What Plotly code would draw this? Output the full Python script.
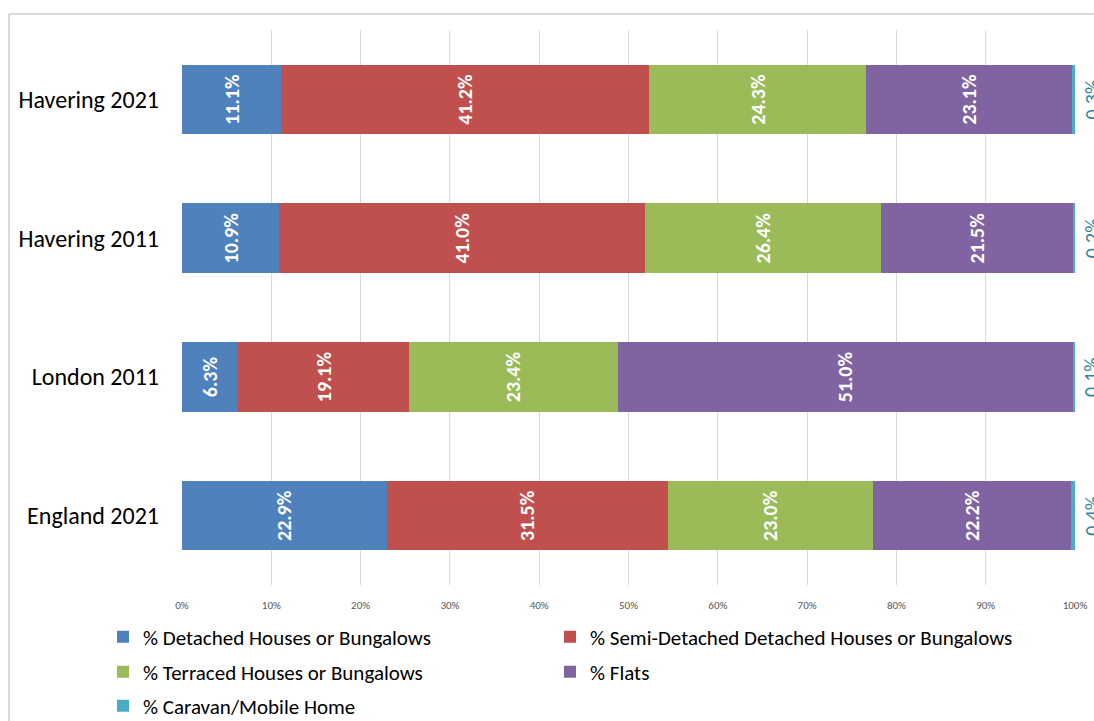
import plotly.graph_objects as go

categories = ["Havering 2021", "Havering 2011", "London 2011", "England 2021"]
series_names = [
    "% Detached Houses or Bungalows",
    "% Semi-Detached Detached Houses or Bungalows",
    "% Terraced Houses or Bungalows",
    "% Flats",
    "% Caravan/Mobile Home",
]
detached = [11.1, 10.9, 6.3, 22.9]
semi = [41.2, 41.0, 19.1, 31.5]
terraced = [24.3, 26.4, 23.4, 23.0]
flats = [23.1, 21.5, 51.0, 22.2]
caravan = [0.3, 0.2, 0.1, 0.4]
colors = ["#4F81BD", "#C0504D", "#9BBB59", "#8064A2", "#4BACC6"]
tick_vals = [0, 10, 20, 30, 40, 50, 60, 70, 80, 90, 100]
tick_text = ["0%", "10%", "20%", "30%", "40%", "50%", "60%", "70%", "80%", "90%", "100%"]

W, H = 1094, 721
# plot area in pixels: x 182..1075, y 30..585
ML, MR = 182, W - 1075
MT, MB = 30, H - 585
PW, PH = W - ML - MR, H - MT - MB

def px_x(p):  # px -> paper x
    return (p - ML) / PW

def px_y(p):  # px -> paper y
    return (H - MB - p) / PH

FONT = "Carlito, Calibri, 'Noto Sans', sans-serif"

# one legend per entry: (left x of legend box, centre y)
legend_pos = [(103, 637), (550, 637), (103, 672), (550, 672), (103, 706)]
legend_ids = ["legend", "legend2", "legend3", "legend4", "legend5"]

fig = go.Figure()
all_series = [detached, semi, terraced, flats, caravan]
for i, (name, vals) in enumerate(zip(series_names, all_series)):
    is_car = i == 4
    fig.add_trace(go.Bar(
        y=categories, x=vals, name=name, orientation="h",
        marker=dict(color=colors[i], line=dict(width=0)),
        text=None if is_car else [f"{v:.1f}%" for v in vals],
        textposition="none" if is_car else "inside",
        insidetextanchor="middle",
        textangle=-90,
        constraintext="none",
        cliponaxis=False,
        textfont=dict(family=FONT, size=20, color="white", weight="bold"),
        legend=legend_ids[i],
        hoverinfo="skip",
    ))

# outside labels for the thin caravan segment (partly cut at the right edge, as in the source)
annotations = []
for cat, a, b, c, d, e in zip(categories, detached, semi, terraced, flats, caravan):
    end = min(round(a + b + c + d + e, 1), 100)
    annotations.append(dict(
        x=end, y=cat, xref="x", yref="y",
        text=f"{e:.1f}%", showarrow=False, textangle=-90,
        xanchor="center", yanchor="middle", xshift=17,
        font=dict(family=FONT, size=20, color="#31859C"),
    ))

legends = {}
for lid, (lx, ly) in zip(legend_ids, legend_pos):
    legends[lid] = dict(
        x=px_x(lx), y=px_y(ly), xanchor="left", yanchor="middle",
        orientation="v",
        font=dict(family=FONT, size=21, color="#000000"),
        bgcolor="rgba(0,0,0,0)", itemclick=False,
    )

fig.update_layout(
    width=W, height=H,
    margin=dict(l=ML, r=MR, t=MT, b=MB, autoexpand=False),
    paper_bgcolor="white", plot_bgcolor="white",
    barmode="stack", bargap=0.5,
    showlegend=True,
    xaxis=dict(range=[0, 100], tickvals=tick_vals, ticktext=tick_text,
               showgrid=True, gridcolor="#D9D9D9", gridwidth=1,
               zeroline=False, showline=False, ticks="",
               ticklabelstandoff=12, automargin=False,
               tickfont=dict(family=FONT, size=11, color="#595959"),
               fixedrange=True),
    yaxis=dict(categoryorder="array", categoryarray=categories,
               autorange="reversed", showgrid=False, zeroline=False,
               showline=False, ticks="", ticklabelstandoff=22,
               automargin=False,
               tickfont=dict(family=FONT, size=24, color="#000000"),
               fixedrange=True),
    annotations=annotations,
    shapes=[
        dict(type="line", xref="paper", yref="paper",
             x0=px_x(9), x1=px_x(1094), y0=px_y(14), y1=px_y(14),
             line=dict(color="#D9D9D9", width=2)),
        dict(type="line", xref="paper", yref="paper",
             x0=px_x(9), x1=px_x(9), y0=px_y(14), y1=px_y(730),
             line=dict(color="#D9D9D9", width=2)),
    ],
    **legends,
)

fig.write_html(
    "out.html",
    config={"displayModeBar": False},
    post_script="document.body.style.margin='0';document.body.style.overflow='hidden';",
)
